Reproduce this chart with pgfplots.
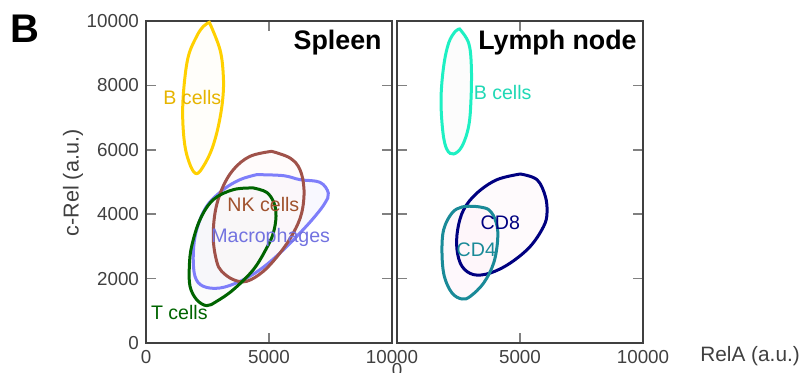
\documentclass[border=0pt]{standalone}
\usepackage{pgfplots}
\usepackage{pgfplotstable}
\pgfplotsset{compat=1.18}
\usepackage{fontspec}
\setmainfont{Liberation Sans}

\definecolor{axgray}{HTML}{404040}
\definecolor{tickgray}{HTML}{808080}
\definecolor{cBsp}{HTML}{FFD000}
\definecolor{cBspT}{HTML}{E6B400}
\definecolor{cNK}{HTML}{A0524A}
\definecolor{cNKT}{HTML}{A0522D}
\definecolor{cMac}{HTML}{7E7EFA}
\definecolor{cMacT}{HTML}{7272E0}
\definecolor{cT}{HTML}{006400}
\definecolor{cBln}{HTML}{1EF0C3}
\definecolor{cBlnT}{HTML}{20D8B5}
\definecolor{cCD8}{HTML}{000080}
\definecolor{cCD4}{HTML}{1A8A98}

% Spleen
\pgfplotstableread{
x y
2575 9959
3008 9110
3144 8282
3117 7557
2940 6729
2669 6004
2331 5487
2060 5259
1816 5487
1585 6108
1491 7039
1545 7971
1721 8903
2060 9524
2331 9834
2575 9959
}\tabBsp
\pgfplotstableread{
x y
4499 5228
5583 5197
6260 5072
7073 4990
7412 4658
7276 4348
6870 3934
6260 3416
5447 2795
4634 2277
3821 1915
3008 1708
2331 1760
1992 2070
1924 2795
2060 3520
2466 4244
3144 4762
3821 5072
4499 5228
}\tabMac
\pgfplotstableread{
x y
5108 5952
5854 5745
6260 5383
6423 4762
6328 4037
5989 3416
5447 2795
4770 2226
4092 1915
3550 1967
3076 2226
2873 2536
2737 3209
2805 4037
3076 4762
3550 5383
4228 5797
5108 5952
}\tabNK
\pgfplotstableread{
x y
4363 4814
4905 4679
5203 4348
5285 3934
5176 3416
4905 2950
4363 2277
3550 1656
2873 1294
2466 1159
2060 1346
1789 1760
1762 2381
1856 3002
2195 3830
2737 4451
3550 4762
4363 4814
}\tabT
% Lymph node
\pgfplotstableread{
x y
2547 9752
2913 9317
3022 8592
3008 7557
2913 6729
2642 6108
2304 5870
2033 6004
1870 6522
1789 7557
1897 8592
2100 9317
2371 9679
2547 9752
}\tabBln
\pgfplotstableread{
x y
5014 5248
5691 5072
6030 4555
6098 4037
5962 3623
5420 3002
4607 2484
3794 2174
3117 2122
2642 2381
2439 2899
2466 3520
2710 4141
3252 4658
4065 5072
5014 5248
}\tabCDeight
\pgfplotstableread{
x y
3117 4244
3726 4141
4038 3727
4092 3209
3930 2484
3523 1863
2981 1449
2642 1366
2236 1553
1924 2070
1829 2795
1897 3520
2236 4037
2642 4224
3117 4244
}\tabCDfour

\tikzset{lab/.style={font=\fontsize{9.8}{11}\selectfont, text=#1}}
\pgfplotsset{
  panel/.style={
    at={(#1,15pt)}, anchor=south west, scale only axis,
    width=123pt, height=161pt,
    xmin=0, xmax=10000, ymin=0, ymax=10000,
    xtick={0,5000,10000}, ytick={0,2000,...,10000},
    tick align=inside, tick pos=both, major tick length=5pt,
    xticklabel pos=lower, yticklabel pos=left,
    every tick/.style={tickgray, line width=0.8pt},
    axis line style={axgray, line width=1pt},
    tick label style={font=\fontsize{9.4}{11}\selectfont, text=axgray},
    /pgf/number format/assume math mode=true,
    /pgf/number format/1000 sep={},
    scaled ticks=false,
    clip=false,
  },
  cfill/.style={smooth, tension=0.6, draw=none, fill=#1, fill opacity=0.5},
  cline/.style={smooth, tension=0.6, line width=1.5pt, draw=#1},
}

\begin{document}
\begin{tikzpicture}
\path[use as bounding box] (0,0) rectangle (402.5pt,186.5pt);

% Spleen
\begin{axis}[panel=73pt]
\addplot[cfill=yellow!4] table {\tabBsp} -- cycle;
\addplot[cfill=blue!5] table {\tabMac} -- cycle;
\addplot[cfill=red!3] table {\tabNK} -- cycle;
\addplot[cfill=gray!6] table {\tabT} -- cycle;
\addplot[cline=cBsp] table {\tabBsp} -- cycle;
\addplot[cline=cMac] table {\tabMac} -- cycle;
\addplot[cline=cNK] table {\tabNK} -- cycle;
\addplot[cline=cT] table {\tabT} -- cycle;
\node[lab=cBspT] at (axis cs:1883,7609) {B cells};
\node[lab=cNKT] at (axis cs:4770,4296) {NK cells};
\node[lab=cMacT] at (axis cs:5068,3282) {Macrophages};
\node[lab=cT] at (axis cs:1355,932) {T cells};
\end{axis}

% Lymph node
\begin{axis}[panel=198.5pt, yticklabels={}, xticklabels={\raisebox{-6.5pt}[\height][0pt]{0},5000,10000}]
\addplot[cfill=gray!5] table {\tabBln} -- cycle;
\addplot[cfill=magenta!4] table {\tabCDeight} -- cycle;
\addplot[cfill=magenta!5] table {\tabCDfour} -- cycle;
\addplot[cline=cBln] table {\tabBln} -- cycle;
\addplot[cline=cCD8] table {\tabCDeight} -- cycle;
\addplot[cline=cCD4] table {\tabCDfour} -- cycle;
\node[lab=cBlnT] at (axis cs:4295,7785) {B cells};
\node[lab=cCD8] at (axis cs:4201,3747) {CD8};
\node[lab=cCD4] at (axis cs:3225,2899) {CD4};
\end{axis}

\node[anchor=east, inner sep=0pt, font=\fontsize{13.4}{15}\selectfont\bfseries] at (191pt,165pt) {Spleen};
\node[anchor=east, inner sep=0pt, font=\fontsize{13.4}{15}\selectfont\bfseries] at (318.5pt,165pt) {Lymph node};
\node[font=\fontsize{20}{22}\selectfont\bfseries] at (12.5pt,172pt) {B};
\node[rotate=90, font=\fontsize{10.8}{12}\selectfont, text=axgray] at (36.5pt,95pt) {c-Rel (a.u.)};
\node[anchor=west, inner sep=0pt, font=\fontsize{10.4}{12}\selectfont, text=axgray] at (350pt,8.5pt) {RelA (a.u.)};
\end{tikzpicture}
\end{document}
